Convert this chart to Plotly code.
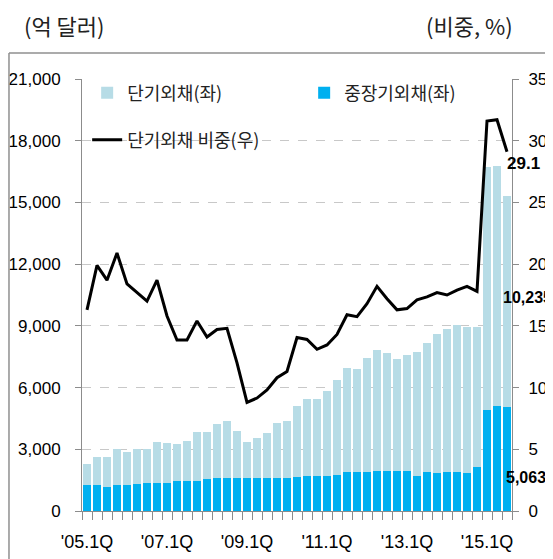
import plotly.graph_objects as go

quarters = [f"'{y:02d}.{q}Q" for y in range(5, 16) for q in range(1, 5)][:43]
tick_labels = ["'05.1Q", "'07.1Q", "'09.1Q", "'11.1Q", "'13.1Q", "'15.1Q"]

long_term = [1260, 1260, 1180, 1260, 1260, 1310, 1380, 1380, 1380, 1440,
             1440, 1480, 1540, 1600, 1600, 1620, 1620, 1620, 1620, 1620,
             1620, 1650, 1720, 1720, 1720, 1770, 1880, 1880, 1900, 1950,
             1950, 1950, 1950, 1720, 1880, 1860, 1880, 1880, 1860, 2130,
             4930, 5110, 5063]
short_term = [1030, 1380, 1460, 1740, 1630, 1690, 1620, 1980, 1910, 1800,
              1960, 2380, 2320, 2620, 2780, 2260, 1720, 1950, 2190, 2640,
              2760, 3460, 3720, 3710, 4120, 4600, 5090, 5020, 5560, 5880,
              5720, 5430, 5650, 6000, 6310, 6730, 6950, 7160, 7100, 6830,
              11810, 11660, 10235]
short_ratio = [16.3, 19.9, 18.7, 20.9, 18.4, 17.7, 17.0, 18.7, 15.8, 13.85,
               13.85, 15.4, 14.1, 14.7, 14.8, 12.0, 8.8, 9.15, 9.8, 10.8,
               11.3, 14.05, 13.9, 13.1, 13.45, 14.3, 15.9, 15.75, 16.8, 18.2,
               17.2, 16.3, 16.4, 17.1, 17.35, 17.7, 17.5, 17.9, 18.2, 17.8,
               31.6, 31.7, 29.1]

left_ticks = [0, 3000, 6000, 9000, 12000, 15000, 18000, 21000]
right_ticks = [0, 5, 10, 15, 20, 25, 30, 35]

FONT = "Liberation Sans, Arial, Noto Sans CJK KR, sans-serif"
KFONT = "Noto Sans CJK KR, sans-serif"

fig = go.Figure()
fig.add_trace(go.Bar(x=quarters, y=long_term, name="중장기외채(좌)",
                     marker=dict(color="#00B0F0", line=dict(width=0)),
                     legend="legend", legendrank=2))
fig.add_trace(go.Bar(x=quarters, y=short_term, name="단기외채(좌)",
                     marker=dict(color="#B7DCE6", line=dict(width=0)),
                     legend="legend", legendrank=1, legendwidth=172))
fig.add_trace(go.Scatter(x=quarters, y=short_ratio, name="단기외채 비중(우)",
                         mode="lines", line=dict(color="black", width=3),
                         yaxis="y2", legend="legend2"))

ticktext = [q if q in tick_labels else "" for q in quarters]

# page body has an 8px margin: figure is 545x551 and sits at (8, 8)
fig.update_layout(
    width=545, height=551,
    margin=dict(l=74, r=41, t=71, b=48, autoexpand=False),
    paper_bgcolor="white", plot_bgcolor="white",
    barmode="stack", bargap=0.25,
    font=dict(family=FONT, color="black"),
    xaxis=dict(type="category", tickmode="array", tickvals=quarters, ticktext=ticktext,
               tickson="boundaries", ticks="outside", ticklen=8, tickcolor="#8c8c8c",
               showline=True, linecolor="#8c8c8c", linewidth=1, showgrid=False,
               tickfont=dict(size=18, family=FONT), ticklabelstandoff=14,
               tickangle=0, range=[-0.5, 42.5], automargin=False),
    yaxis=dict(range=[0, 21000], tickvals=left_ticks, tickformat=",",
               ticks="outside", ticklen=6, tickcolor="#8c8c8c",
               showline=True, linecolor="#8c8c8c", linewidth=1,
               showgrid=True, gridcolor="#c8c8c8", griddash="dash", gridwidth=1,
               zeroline=False, tickfont=dict(size=17, family=FONT),
               ticklabelstandoff=11, automargin=False),
    yaxis2=dict(range=[0, 35], tickvals=right_ticks, overlaying="y", side="right",
                ticks="outside", ticklen=6, tickcolor="#8c8c8c",
                showline=True, linecolor="#8c8c8c", linewidth=1,
                showgrid=False, zeroline=False, tickfont=dict(size=17, family=FONT),
                ticklabelstandoff=6, automargin=False),
    legend=dict(orientation="h", x=0.012, y=0.9676, xanchor="left", yanchor="middle",
                font=dict(size=18, family=KFONT, color="#222"),
                bgcolor="rgba(0,0,0,0)", traceorder="normal"),
    legend2=dict(orientation="h", x=0.012, y=0.8588, xanchor="left", yanchor="middle",
                 font=dict(size=18, family=KFONT, color="#222"),
                 bgcolor="rgba(0,0,0,0)"),
    showlegend=True,
)

# frame around chart area (left and top edges of the chart box)
fig.add_shape(type="line", xref="paper", yref="paper",
              x0=-0.1698, x1=-0.1698, y0=-0.12, y1=1.060,
              line=dict(color="#8f8f8f", width=1.5))
fig.add_shape(type="line", xref="paper", yref="paper",
              x0=-0.1698, x1=1.09, y0=1.060, y1=1.060,
              line=dict(color="#8f8f8f", width=1.5))

# unit labels
fig.add_annotation(text="(억 달러)", xref="paper", yref="paper", x=-0.1396, y=1.125,
                   xanchor="left", yanchor="middle", showarrow=False,
                   font=dict(size=22, family=KFONT, color="#222"))
fig.add_annotation(text="(비중, %)", xref="paper", yref="paper", x=1.007, y=1.125,
                   xanchor="right", yanchor="middle", showarrow=False,
                   font=dict(size=22, family=KFONT, color="#222"))

# value labels
fig.add_annotation(text=f"{short_ratio[-1]}", x=quarters[-1], y=short_ratio[-1], yref="y2",
                   xanchor="left", yanchor="middle", xshift=-2, yshift=-12, showarrow=False,
                   font=dict(size=17, family=FONT, color="black", weight="bold"))
fig.add_annotation(text=f"{short_term[-1]:,}", x=quarters[-1], y=short_term[-1], yref="y",
                   xanchor="left", yanchor="middle", xshift=-6, yshift=3, showarrow=False,
                   font=dict(size=16, family=FONT, color="black", weight="bold"))
fig.add_annotation(text=f"{long_term[-1]:,}", x=quarters[-1], y=long_term[-1], yref="y",
                   xanchor="left", yanchor="middle", xshift=-3, yshift=-71, showarrow=False,
                   font=dict(size=16, family=FONT, color="black", weight="bold"))

fig.write_html("out.html")
